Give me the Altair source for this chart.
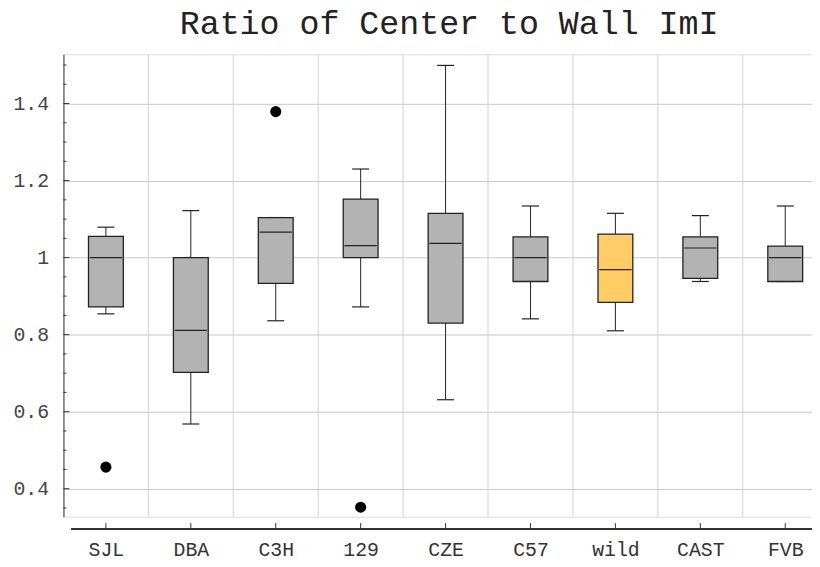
import altair as alt
import pandas as pd

# ---- data ----
cats = ["SJL", "DBA", "C3H", "129", "CZE", "C57", "wild", "CAST", "FVB"]
whisker_lo = [0.854, 0.568, 0.836, 0.872, 0.631, 0.841, 0.810, 0.938, 0.938]
q1 = [0.872, 0.702, 0.933, 1.000, 0.830, 0.938, 0.884, 0.946, 0.938]
median = [1.000, 0.811, 1.066, 1.031, 1.037, 1.000, 0.969, 1.025, 1.000]
q3 = [1.055, 1.000, 1.104, 1.152, 1.115, 1.054, 1.061, 1.054, 1.030]
whisker_hi = [1.079, 1.122, 1.104, 1.230, 1.499, 1.134, 1.115, 1.109, 1.134]
outlier_cat = ["SJL", "C3H", "129"]
outlier_val = [0.456, 1.379, 0.352]
highlight = "wild"
y_major = [0.4, 0.6, 0.8, 1.0, 1.2, 1.4]
y_minor = [0.35, 0.45, 0.5, 0.55, 0.65, 0.7, 0.75, 0.85, 0.9, 0.95,
           1.05, 1.1, 1.15, 1.25, 1.3, 1.35, 1.45, 1.5]

W, H = 756, 467
FONT = "Liberation Mono"

box = pd.DataFrame({
    "cat": cats, "idx": list(range(len(cats))),
    "lo": whisker_lo, "q1": q1, "med": median, "q3": q3, "hi": whisker_hi,
})
out = pd.DataFrame({"cat": outlier_cat,
                    "idx": [cats.index(c) for c in outlier_cat],
                    "val": outlier_val})
bounds = pd.DataFrame({"b": [i + 0.5 for i in range(len(cats) - 1)]})
tick_major = pd.DataFrame({"v": y_major})
tick_minor = pd.DataFrame({"v": y_minor})

xs = alt.Scale(domain=[-0.5, -0.5 + W / 85.76], nice=False, zero=False)
ys = alt.Scale(domain=[0.3273, 1.5278], nice=False, zero=False)

label_expr = "[" + ",".join("'%s'" % c for c in cats) + "][datum.value]"
x_axis = alt.Axis(values=list(range(len(cats))), labelExpr=label_expr,
                  title=None, grid=False, ticks=False, tickSize=0, domain=False,
                  offset=12, labelPadding=11, labelFont=FONT, labelFontSize=20,
                  labelColor="#333333")
y_axis = alt.Axis(values=y_major, format="~g", title=None, grid=True,
                  gridColor="#c8c8c8", gridWidth=1, ticks=False, tickSize=0,
                  domain=True, domainColor="#333333", domainWidth=1,
                  labelPadding=15, labelFont=FONT, labelFontSize=20,
                  labelColor="#444444")


def X(f):
    return alt.X(f, type="quantitative", scale=xs, axis=x_axis)


def Y(f):
    return alt.Y(f, type="quantitative", scale=ys, axis=y_axis)


vgrid = alt.Chart(bounds).mark_rule(color="#d2d2d2", strokeWidth=1).encode(
    x=X("b:Q"), y=alt.value(0), y2=alt.value(H))

base = alt.Chart(box)
whisk_lo = base.mark_rule(color="#222222", strokeWidth=1).encode(
    x=X("idx:Q"), y=Y("lo:Q"), y2="q1:Q")
whisk_hi = base.mark_rule(color="#222222", strokeWidth=1).encode(
    x=X("idx:Q"), y=Y("q3:Q"), y2="hi:Q")
caps_lo = base.transform_calculate(a="datum.idx - 0.1", b="datum.idx + 0.1").mark_rule(
    color="#222222", strokeWidth=1.2).encode(x=X("a:Q"), x2="b:Q", y=Y("lo:Q"))
caps_hi = base.transform_calculate(a="datum.idx - 0.1", b="datum.idx + 0.1").mark_rule(
    color="#222222", strokeWidth=1.2).encode(x=X("a:Q"), x2="b:Q", y=Y("hi:Q"))
rect = base.transform_calculate(a="datum.idx - 0.205", b="datum.idx + 0.205").mark_rect(
    stroke="#222222", strokeWidth=1.3).encode(
    x=X("a:Q"), x2="b:Q", y=Y("q1:Q"), y2="q3:Q",
    fill=alt.condition(alt.datum.cat == highlight, alt.value("#FFCC66"), alt.value("#B3B3B3")))
med = base.transform_calculate(a="datum.idx - 0.19", b="datum.idx + 0.19").mark_rule(
    color="#222222", strokeWidth=1.2).encode(x=X("a:Q"), x2="b:Q", y=Y("med:Q"))
pts = alt.Chart(out).mark_point(filled=True, color="black", size=125, opacity=1).encode(
    x=X("idx:Q"), y=Y("val:Q"))

ytick_major = alt.Chart(tick_major).mark_rule(color="#333333").encode(
    y=Y("v:Q"), x=alt.value(0), x2=alt.value(6))
ytick_minor = alt.Chart(tick_minor).mark_rule(color="#333333").encode(
    y=Y("v:Q"), x=alt.value(0), x2=alt.value(3))
xticks = base.mark_rule(color="#333333").encode(
    x=X("idx:Q"), y=alt.value(H + 6.5), y2=alt.value(H + 12.5))
xline = alt.Chart(bounds).mark_rule(color="#333333", strokeWidth=1).encode(
    x=alt.value(8), x2=alt.value(W), y=alt.value(H + 12.5))

chart = alt.layer(
    vgrid, whisk_lo, whisk_hi, caps_lo, caps_hi, rect, med, pts,
    ytick_major, ytick_minor, xticks, xline,
).properties(
    width=W, height=H,
    title=alt.TitleParams("Ratio of Center to Wall ImI", font=FONT, fontSize=33.6,
                          fontWeight="normal", color="#222222", anchor="middle",
                          frame="group", offset=13, dx=11.5),
    autosize=alt.AutoSizeParams(type="none"),
    padding={"left": 56, "top": 44, "right": 0, "bottom": 46},
).configure_view(stroke=None).configure(background="white")

chart.save("out.html", embed_options={"renderer": "svg", "actions": False})
